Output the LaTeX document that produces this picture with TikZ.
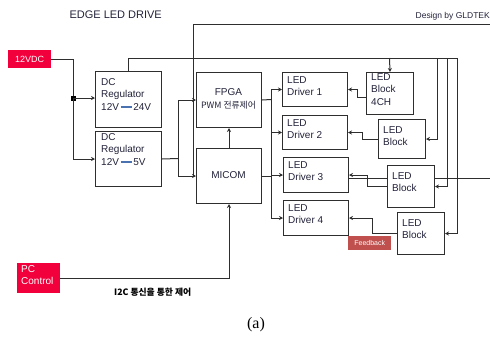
\documentclass[tikz,border=0pt]{standalone}
\usepackage{fontspec}
\setmainfont{Liberation Sans}
\newfontfamily\krfont{Noto Sans CJK KR}
\newfontfamily\capfont{Liberation Serif}
\usetikzlibrary{arrows.meta}
\definecolor{redbox}{HTML}{F2003C}
\definecolor{fbred}{HTML}{C0504D}
\definecolor{lncol}{HTML}{2E2E2E}
\definecolor{txcol}{HTML}{22223A}
\definecolor{ablue}{HTML}{4A72B0}
\newcommand{\blarrow}{\,{\color{ablue}\rule[2.5pt]{11pt}{2pt}}\,}
\tikzset{
  blk/.style={draw=lncol, line width=1pt, rectangle, inner sep=0pt, anchor=north west},
  boxtxt/.style={align=left, anchor=north west, inner sep=0pt, text=txcol, font=\fontsize{10}{12.5}\selectfont},
  redtag/.style={fill=redbox, anchor=north west, inner sep=0pt, text=white},
  ln/.style={draw=lncol, line width=1pt},
  arr/.style={ln, -{Stealth[length=4pt,width=4pt]}}
}
\begin{document}
\begin{tikzpicture}[x=1pt,y=-1pt]
\useasboundingbox (0,0) rectangle (490,338);
% titles
\node[anchor=west, text=txcol, font=\fontsize{11}{13}\selectfont] (title) at (66,15) {EDGE LED DRIVE};
\node[anchor=east, text=txcol, font=\fontsize{8.5}{10}\selectfont, inner sep=0pt] (design) at (490,16) {Design by GLDTEK};
\node[font=\capfont\fontsize{16}{18}\selectfont] (cap) at (256,325) {(a)};
% red tags
\node[redtag, minimum width=43pt, minimum height=18pt, font=\fontsize{9}{11}\selectfont] (v12) at (8,50) {12VDC};
\node[redtag, minimum width=43pt, minimum height=30pt] (pc) at (17,263) {};
\node[boxtxt, text=white, font=\fontsize{10}{12.5}\selectfont] (pct) at (21,265) {PC\\Control};
\node[fill=fbred, anchor=north west, inner sep=0pt, minimum width=43pt, minimum height=14pt, text=white, font=\fontsize{7}{8}\selectfont] (fb) at (348,236) {Feedback};
% boxes
\node[blk, minimum width=66pt, minimum height=56pt] (reg24) at (95,71) {};
\node[boxtxt] (reg24t) at (101,78) {DC\\Regulator\\12V\blarrow 24V};
\node[blk, minimum width=66pt, minimum height=55pt] (reg5) at (95,131) {};
\node[boxtxt] (reg5t) at (101,133) {DC\\Regulator\\12V\blarrow 5V};
\node[blk, minimum width=65pt, minimum height=55pt] (fpga) at (196,72) {};
\node[align=center, text=txcol, inner sep=0pt, font=\fontsize{10}{12.5}\selectfont] (fpgat) at (228.5,99) {FPGA\\{\krfont\fontsize{8.8}{10}\selectfont PWM 전류제어}};
\node[blk, minimum width=65pt, minimum height=55pt] (micom) at (196,148) {};
\node[text=txcol, inner sep=0pt, font=\fontsize{10}{12.5}\selectfont] (micomt) at (228.5,175.5) {MICOM};
% drivers
\node[blk, minimum width=65pt, minimum height=34pt] (d1) at (282,72) {};
\node[boxtxt] (d1t) at (287,76) {LED\\Driver 1};
\node[blk, minimum width=65pt, minimum height=34pt] (d2) at (282,115) {};
\node[boxtxt] (d2t) at (287,119) {LED\\Driver 2};
\node[blk, minimum width=65pt, minimum height=35pt] (d3) at (283,157) {};
\node[boxtxt] (d3t) at (288,161) {LED\\Driver 3};
\node[blk, minimum width=65pt, minimum height=35pt] (d4) at (283,200) {};
\node[boxtxt] (d4t) at (288,204) {LED\\Driver 4};
% blocks
\node[blk, minimum width=47pt, minimum height=42pt] (b1) at (366,72) {};
\node[boxtxt] (b1t) at (371,73) {LED\\Block\\4CH};
\node[blk, minimum width=47pt, minimum height=39pt] (b2) at (378,119) {};
\node[boxtxt] (b2t) at (383,126) {LED\\Block};
\node[blk, minimum width=47pt, minimum height=42pt] (b3) at (387,165) {};
\node[boxtxt] (b3t) at (392,172) {LED\\Block};
\node[blk, minimum width=47pt, minimum height=42pt] (b4) at (397,212) {};
\node[boxtxt] (b4t) at (402,219) {LED\\Block};
% I2C label
\node[font=\krfont\bfseries\fontsize{8.8}{10}\selectfont, text=black, anchor=west, inner sep=0pt] (i2c) at (114,292) {I2C 통신을 통한 제어};
% coordinates
\coordinate (j1) at (73,98);
\coordinate (j2) at (178,158.5);
\coordinate (r0) at (389.5,58);
\coordinate (r1) at (437,58);
\coordinate (r2) at (447,58);
\coordinate (r3) at (457,58);
\coordinate (tl) at (193,24);
\coordinate (tr) at (490,24);
\coordinate (tb) at (193,177);
\coordinate (bus) at (271,99.5);
\coordinate (ext1) at (348,178);
\coordinate (ext2) at (387,178);
\coordinate (ext3) at (434,178);
\coordinate (ext4) at (490,178);
\coordinate (fb1) at (366,97);
% power input
\draw[ln] (v12.east) -| (j1);
\fill[black] (j1) ++(-2.5,-2.5) rectangle ++(5,5);
\draw[arr] (j1) -- (j1 -| reg24.west);
\draw[arr] (j1) |- (reg5.west);
% 24V supply rails
\draw[arr] (reg24.north) |- (r3) |- (b4.east);
\draw[arr] (r1) |- (b2.east);
\draw[arr] (r2) |- (b3.east);
\draw[arr] (r0) -- (b1.north);
% top line
\draw[ln] (tb) -- (tl) -- (tr);
% 5V supply
\draw[ln] (reg5.east) -- (j2);
\draw[arr] (j2) |- (fpga.west);
\draw[arr] (j2) |- (micom.west);
% micom / fpga / pc
\draw[arr] (micom.north) -- (fpga.south);
\draw[arr] (pc.east) -| (micom.south);
% driver bus
\draw[ln] (fpga.east) -- (bus);
\draw[ln] (micom.east) -| (bus);
\draw[arr] (bus) |- (d1.west);
\draw[arr] (bus) |- (d2.west);
\draw[arr] (bus) |- (d3.west);
\draw[arr] (bus) |- (d4.west);
% feedback
\draw[arr] (fb1) -- ++(-9,0) |- (d1.east);
\draw[arr] (b2.west) -- ++(-16,0) |- (d2.east);
\draw[arr] (b3.west) -- ++(-20,0) |- (d3.east);
\draw[arr] (b4.west) -- ++(-25,0) |- (d4.east);
% external line
\draw[ln] (ext1) -- (ext2);
\draw[ln] (ext3) -- (ext4);
\end{tikzpicture}
\end{document}
